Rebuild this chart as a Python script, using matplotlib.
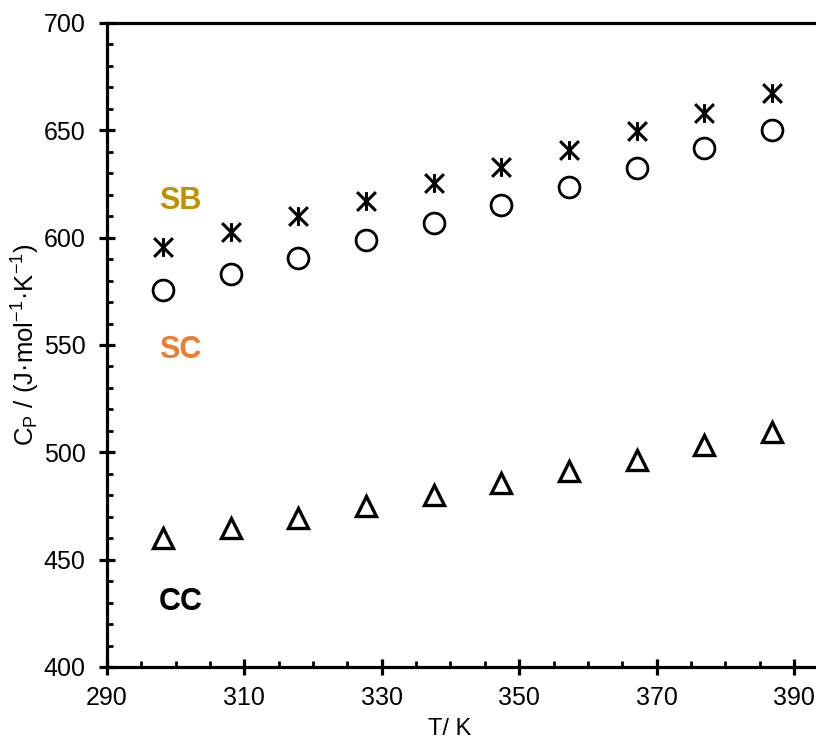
import matplotlib
matplotlib.use("Agg")
import matplotlib.pyplot as plt
from matplotlib.path import Path
from matplotlib.ticker import FixedLocator, MultipleLocator

plt.rcParams['font.family'] = ['Liberation Sans', 'DejaVu Sans']
plt.rcParams['mathtext.fontset'] = 'custom'
plt.rcParams['mathtext.rm'] = 'Liberation Sans'
plt.rcParams['mathtext.it'] = 'Liberation Sans:italic'
plt.rcParams['mathtext.bf'] = 'Liberation Sans:bold'

# Heat capacity vs temperature
T = [298.15, 308.0, 317.85, 327.7, 337.55, 347.4, 357.25, 367.1, 376.95, 386.8]
cp_sb = [595.8, 602.7, 610.3, 617.3, 625.4, 632.9, 641.0, 649.6, 658.0, 667.4]
cp_sc = [575.7, 583.0, 590.6, 598.9, 607.0, 615.0, 623.5, 632.3, 641.7, 650.3]
cp_cc = [460.0, 464.6, 469.4, 474.8, 480.3, 485.6, 491.1, 496.6, 503.2, 509.6]

x_ticks = [290, 310, 330, 350, 370, 390]

series_names = ['SB', 'SC', 'CC']
name_colors = ['#BF9000', '#ED7D31', '#000000']
name_pos = [(300.7, 613.2), (300.7, 543.8), (300.7, 426.6)]

# Star marker: vertical bar plus a diagonal cross
star = Path([(0, -1), (0, 1), (-1, -1), (1, 1), (-1, 1), (1, -1)],
            [Path.MOVETO, Path.LINETO, Path.MOVETO, Path.LINETO,
             Path.MOVETO, Path.LINETO])

W, H = 816, 742
fig = plt.figure(figsize=(W / 100, H / 100), dpi=100)
ax = fig.add_axes([107 / W, 1 - 667 / H, 1 - 107 / W, (667 - 23) / H])

ax.plot(T, cp_sb, linestyle='none', marker=star, markersize=13.5,
        markeredgewidth=2.2, color='black', clip_on=False)
ax.plot(T, cp_sc, linestyle='none', marker='o', markersize=15,
        markeredgewidth=2.0, markerfacecolor='none', markeredgecolor='black',
        clip_on=False)
ax.plot(T, cp_cc, linestyle='none', marker='^', markersize=14,
        markeredgewidth=2.4, markerfacecolor='none', markeredgecolor='black',
        clip_on=False)

for name, col, (px, py) in zip(series_names, name_colors, name_pos):
    ax.text(px, py, name, color=col, fontsize=22, fontweight='bold',
            ha='center', va='baseline')

ax.set_xlim(290, 290 + (W - 107) / 6.87)
ax.set_ylim(400, 700)
ax.xaxis.set_major_locator(FixedLocator(x_ticks))
ax.xaxis.set_minor_locator(MultipleLocator(5))
ax.yaxis.set_major_locator(MultipleLocator(50))
ax.yaxis.set_minor_locator(MultipleLocator(10))

for side in ['left', 'bottom', 'top']:
    ax.spines[side].set_linewidth(2.3)
ax.spines['right'].set_visible(False)

ax.tick_params(which='major', direction='inout', length=11, width=2.3,
               labelsize=18, top=False, right=False)
ax.tick_params(axis='x', which='major', pad=8)
ax.tick_params(axis='y', which='major', pad=10)
ax.tick_params(which='minor', direction='in', length=4.3, width=2.0,
               top=False, right=False)

fig.text(450 / W, 1 - 729 / H, 'T/ K', fontsize=17, ha='center', va='center')
fig.text(26 / W, 1 - 345 / H,
         r'C$_\mathregular{P}$ / (J·mol$^\mathregular{-1}$·K$^\mathregular{-1}$)',
         fontsize=18.5, rotation=90, ha='center', va='center')

fig.savefig('out.png', dpi=100)
